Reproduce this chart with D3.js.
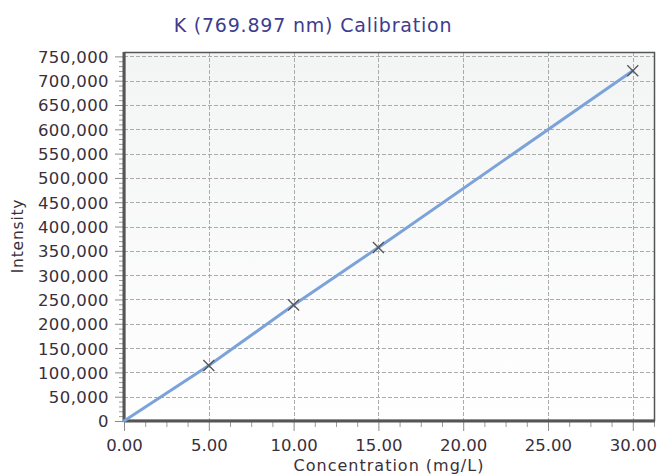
<!DOCTYPE html>
<html><head><meta charset="utf-8">
<script src="https://cdn.jsdelivr.net/npm/d3@7"></script>
<style>
html,body{margin:0;padding:0;background:#fff;}
svg{display:block;}
text{font-family:"DejaVu Sans",Verdana,sans-serif;}
</style></head>
<body>
<svg id="c" width="659" height="475"></svg>
<script>
const chartTitle = "K (769.897 nm) Calibration";
const xLabel = "Concentration (mg/L)";
const yLabel = "Intensity";
const concentrations = [5, 10, 15, 30];
const intensities = [114000, 238500, 357000, 720500];
const lineX = [0, 5, 10, 15, 30];
const lineY = [0, 114000, 238500, 357000, 720500];
const xTicks = [0, 5, 10, 15, 20, 25, 30];
const yTicks = [0,50000,100000,150000,200000,250000,300000,350000,400000,450000,500000,550000,600000,650000,700000,750000];

const svg = d3.select("#c");
const L = 124, R = 655, T = 52, B = 421;
const x = d3.scaleLinear().domain([0, 31.31]).range([L, R]);
const y = d3.scaleLinear().domain([0, 759000]).range([B, T]);

const defs = svg.append("defs");
const g = defs.append("linearGradient").attr("id","bg").attr("x1",0).attr("y1",0).attr("x2",0).attr("y2",1);
g.append("stop").attr("offset","0%").attr("stop-color","#f3f4f4");
g.append("stop").attr("offset","100%").attr("stop-color","#ffffff");

svg.append("rect").attr("x",L).attr("y",T).attr("width",R-L).attr("height",B-T).attr("fill","url(#bg)");

// grid
svg.append("g").selectAll("line").data(yTicks.filter(d=>d>0)).join("line")
  .attr("x1",L).attr("x2",R).attr("y1",d=>Math.round(y(d))+0.5).attr("y2",d=>Math.round(y(d))+0.5)
  .attr("stroke","#ababab").attr("stroke-width",1).attr("stroke-dasharray","4,2");
svg.append("g").selectAll("line").data(xTicks.filter(d=>d>0)).join("line")
  .attr("y1",T).attr("y2",B).attr("x1",d=>Math.round(x(d))+0.5).attr("x2",d=>Math.round(x(d))+0.5)
  .attr("stroke","#ababab").attr("stroke-width",1).attr("stroke-dasharray","4,2");

// axes
const fmtY = d3.format(",");
const yAxis = d3.axisLeft(y).tickValues(yTicks).tickFormat(fmtY).tickSize(8).tickPadding(6);
const yMinor = d3.range(0, 760000, 10000).filter(v=>v%50000!==0);
svg.append("g").attr("transform",`translate(${L-1},0)`).call(d3.axisLeft(y).tickValues(yMinor).tickSize(4).tickFormat(""))
  .call(s=>s.select(".domain").remove()).selectAll("line").attr("stroke","#9a9a9a");
const ya = svg.append("g").attr("transform",`translate(${L-1},0)`).call(yAxis);
ya.select(".domain").remove();
ya.selectAll("line").attr("stroke","#8a8a8a");
ya.selectAll("text").attr("fill","#3a2f3a").style("font-size","16.5px").style("letter-spacing","0.4px").attr("dy","0.36em");

const xMinor = d3.range(0, 31.3, 1.25).filter(v=>v%5!==0);
svg.append("g").attr("transform",`translate(0,${B+1})`).call(d3.axisBottom(x).tickValues(xMinor).tickSize(5).tickFormat(""))
  .call(s=>s.select(".domain").remove()).selectAll("line").attr("stroke","#9a9a9a");
const xa = svg.append("g").attr("transform",`translate(0,${B+1})`).call(d3.axisBottom(x).tickValues(xTicks).tickFormat(d3.format(".2f")).tickSize(9).tickPadding(5));
xa.select(".domain").remove();
xa.selectAll("line").attr("stroke","#8a8a8a");
xa.selectAll("text").attr("fill","#3a2f3a").style("font-size","16.5px").attr("y",null).attr("dy",null).attr("y",29);

// border
svg.append("rect").attr("x",L+0.5).attr("y",T+0.5).attr("width",R-L-1).attr("height",B-T-1)
  .attr("fill","none").attr("stroke","#555").attr("stroke-width",1.5);
svg.append("line").attr("x1",L).attr("x2",R).attr("y1",B).attr("y2",B).attr("stroke","#555").attr("stroke-width",3);
svg.append("line").attr("x1",L).attr("x2",L).attr("y1",T).attr("y2",B+1).attr("stroke","#555").attr("stroke-width",3);

// line
const line = d3.line().x(d=>x(d[0])).y(d=>y(d[1]));
svg.append("path").datum(lineX.map((v,i)=>[v,lineY[i]])).attr("d",line)
  .attr("fill","none").attr("stroke","#7ba3da").attr("stroke-width",3).attr("stroke-linecap","round");

// markers
const s = 5.5;
const mk = svg.append("g").selectAll("g").data(concentrations.map((v,i)=>[v,intensities[i]])).join("g")
  .attr("transform",d=>`translate(${x(d[0])},${y(d[1])})`);
mk.append("path").attr("d",`M${-s},${-s}L${s},${s}M${-s},${s}L${s},${-s}`).attr("stroke","#555").attr("stroke-width",1.3);

// labels
svg.append("text").attr("x",313).attr("y",32).attr("text-anchor","middle").attr("fill","#3d3d8f").style("font-size","19px").style("letter-spacing","0.8px").text(chartTitle);
svg.append("text").attr("x",389).attr("y",471).attr("text-anchor","middle").attr("fill","#3a2f3a").style("font-size","16px").style("letter-spacing","1px").text(xLabel);
svg.append("text").attr("transform","translate(23,236) rotate(-90)").attr("text-anchor","middle").attr("fill","#3a2f3a").style("font-size","15.5px").style("letter-spacing","0.8px").text(yLabel);
</script>
</body></html>
